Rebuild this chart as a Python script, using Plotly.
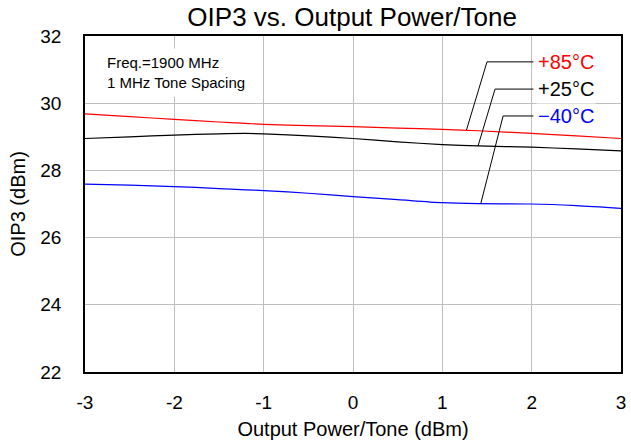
import plotly.graph_objects as go

x_vals = [-3, -2.5, -2, -1.5, -1.2, -1, -0.5, 0, 0.5, 1, 1.4, 2, 2.5, 3]
oip3_85 = [29.68, 29.60, 29.52, 29.44, 29.40, 29.37, 29.33, 29.30, 29.26, 29.22, 29.18, 29.10, 29.03, 28.95]
oip3_25 = [28.95, 29.00, 29.05, 29.09, 29.10, 29.09, 29.03, 28.95, 28.85, 28.77, 28.73, 28.69, 28.64, 28.58]
oip3_m40 = [27.59, 27.56, 27.52, 27.46, 27.42, 27.40, 27.32, 27.22, 27.13, 27.04, 27.01, 27.00, 26.95, 26.87]

x_ticks = [-3, -2, -1, 0, 1, 2, 3]
x_tick_text = ["-3", "-2", "-1", "0", "1", "2", "3"]
y_ticks = [22, 24, 26, 28, 30, 32]

labels = ["+85°C", "+25°C", "\u221240°C"]
colors = ["#ff0000", "#000000", "#0000ff"]
label_y = [31.23, 30.42, 29.62]
corner_x = [1.50, 1.59, 1.68]
foot_x = [1.27, 1.40, 1.43]
foot_y = [29.20, 28.73, 27.01]
line_end_x = 2.02
label_x = 2.05

font = "Liberation Sans, Arial, sans-serif"

fig = go.Figure()
for ys, c, name in zip([oip3_85, oip3_25, oip3_m40], colors, labels):
    fig.add_trace(go.Scatter(x=x_vals, y=ys, mode="lines", name=name,
                             line=dict(color=c, width=1.2, shape="spline", smoothing=0.8),
                             showlegend=False, hoverinfo="skip"))

for i in range(3):
    fig.add_annotation(x=label_x, y=label_y[i], text=labels[i], showarrow=False,
                       xanchor="left", yanchor="middle",
                       font=dict(family=font, size=20, color=colors[i]),
                       bgcolor="white", borderpad=1)
    fig.add_trace(go.Scatter(x=[line_end_x, corner_x[i], foot_x[i]],
                             y=[label_y[i], label_y[i], foot_y[i]],
                             mode="lines", line=dict(color="black", width=1),
                             showlegend=False, hoverinfo="skip"))

fig.add_annotation(x=0.03, y=0.963, xref="paper", yref="paper",
                   text="Freq.=1900 MHz<br>1 MHz Tone Spacing", showarrow=False,
                   xanchor="left", yanchor="top", align="left",
                   font=dict(family=font, size=15, color="black"),
                   bgcolor="white", borderpad=5)

fig.update_layout(
    width=631, height=444,
    margin=dict(l=85, r=10, t=36, b=72),
    paper_bgcolor="white", plot_bgcolor="white",
    title=dict(text="OIP3 vs. Output Power/Tone", x=0.558, xanchor="center",
               y=0.962, yanchor="middle",
               font=dict(family=font, size=26, color="black")),
    font=dict(family=font, color="black"),
)
fig.update_xaxes(range=[-3, 3], tickvals=x_ticks, ticktext=x_tick_text,
                 showgrid=True, gridcolor="#bfbfbf", automargin=False,
                 gridwidth=1, showline=True, linecolor="black", linewidth=1.5, mirror=True,
                 zeroline=False, ticks="", ticklabelstandoff=12,
                 tickfont=dict(family=font, size=19),
                 title=dict(text="Output Power/Tone (dBm)", font=dict(family=font, size=20), standoff=10))
fig.update_yaxes(range=[22, 32], tickvals=y_ticks, showgrid=True, gridcolor="#bfbfbf",
                 gridwidth=1, showline=True, linecolor="black", linewidth=1.5, mirror=True,
                 zeroline=False, ticks="", ticklabelstandoff=18, automargin=False,
                 tickfont=dict(family=font, size=19),
                 title=dict(text="OIP3 (dBm)", font=dict(family=font, size=20), standoff=9))

fig.write_html("out.html")
